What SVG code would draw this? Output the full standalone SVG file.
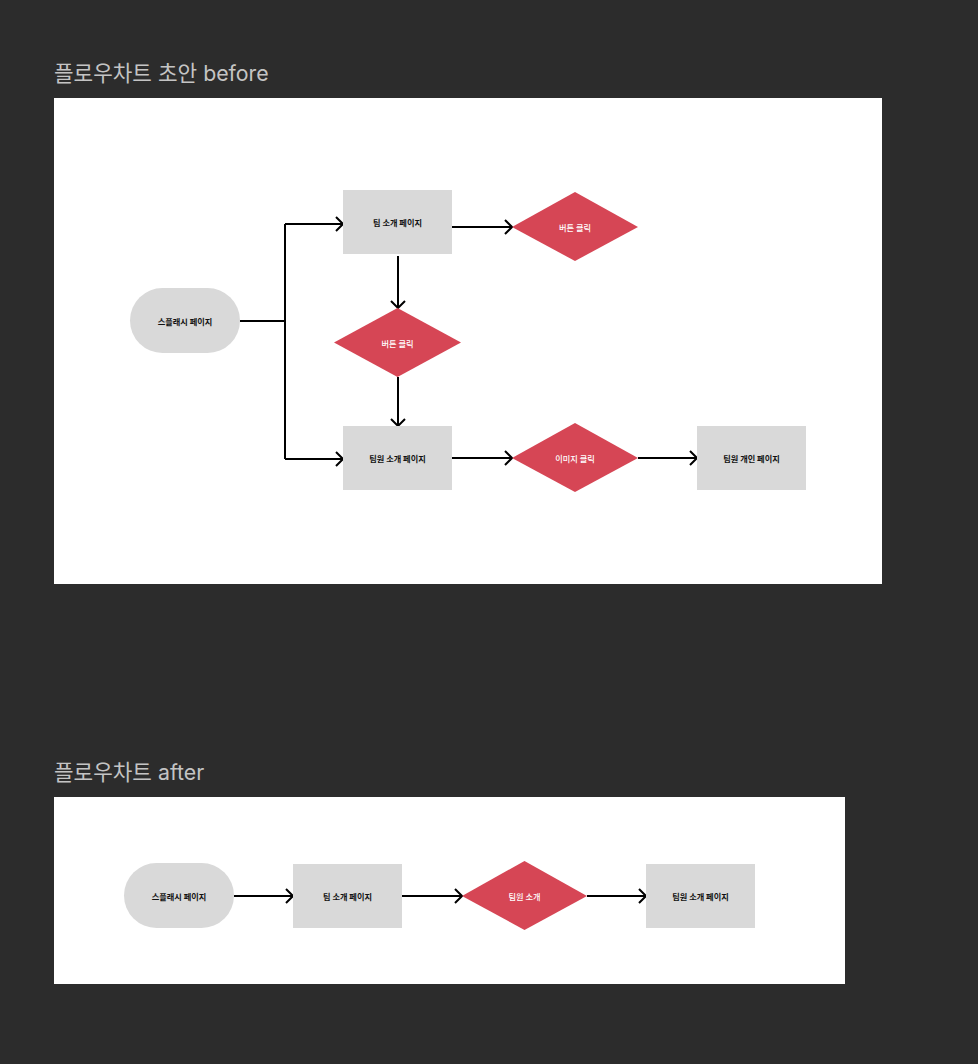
<svg xmlns="http://www.w3.org/2000/svg" width="978" height="1064" viewBox="0 0 978 1064">
<style>
.title{font-family:Inter,"Noto Sans CJK KR",sans-serif;font-size:21.3px;fill:#c4c4c4}
.lbl{font-family:"Noto Sans CJK KR","Noto Sans",sans-serif;font-size:8.2px;font-weight:700;fill:#111;text-anchor:middle;dominant-baseline:central}
.lblw{font-family:"Noto Sans CJK KR","Noto Sans",sans-serif;font-size:8.2px;font-weight:500;fill:#fff;text-anchor:middle;dominant-baseline:central}
.box{fill:#d9d9d9}
.dia{fill:#d64655}
.con{stroke:#000;stroke-width:2;fill:none}
</style>
<defs>
<marker id="arr" viewBox="0 0 10 16" refX="9" refY="8" markerWidth="10" markerHeight="16" markerUnits="userSpaceOnUse" orient="auto">
<path d="M2,1 L9,8 L2,15" fill="none" stroke="#000" stroke-width="2"/>
</marker>
</defs>
<rect width="978" height="1064" fill="#2c2c2c"/>
<text class="title" x="54" y="81">플로우차트 초안 before</text>
<rect x="54" y="98" width="828" height="486" fill="#fff"/>
<text class="title" x="54" y="780">플로우차트 after</text>
<rect x="54" y="797" width="791" height="187" fill="#fff"/>

<g id="connectors">
<path class="con" d="M240,321 H285"/>
<path class="con" d="M285,224 V459"/>
<path class="con" d="M285,224 H343" marker-end="url(#arr)"/>
<path class="con" d="M285,459 H343" marker-end="url(#arr)"/>
<path class="con" d="M452,227 H512" marker-end="url(#arr)"/>
<path class="con" d="M398,256 V308" marker-end="url(#arr)"/>
<path class="con" d="M398,377 V426" marker-end="url(#arr)"/>
<path class="con" d="M452,458 H512" marker-end="url(#arr)"/>
<path class="con" d="M638,458 H697" marker-end="url(#arr)"/>
<path class="con" d="M234,896 H293" marker-end="url(#arr)"/>
<path class="con" d="M402,896 H462" marker-end="url(#arr)"/>
<path class="con" d="M587,896 H646" marker-end="url(#arr)"/>
</g>

<g id="b-splash">
<rect class="box" x="130" y="288" width="110" height="65" rx="32.5"/>
<text class="lbl" x="185" y="321">스플래시 페이지</text>
</g>
<g id="b-team">
<rect class="box" x="343" y="190" width="109" height="64"/>
<text class="lbl" x="397.5" y="222">팀 소개 페이지</text>
</g>
<g id="b-btn1">
<polygon class="dia" points="512,227 575,192 638,227 575,261"/>
<text class="lblw" x="575" y="227">버튼 클릭</text>
</g>
<g id="b-btn2">
<polygon class="dia" points="334,342.5 397.5,308 461,342.5 397.5,377"/>
<text class="lblw" x="397.5" y="342.5">버튼 클릭</text>
</g>
<g id="b-member">
<rect class="box" x="343" y="426" width="109" height="64"/>
<text class="lbl" x="397.5" y="458">팀원 소개 페이지</text>
</g>
<g id="b-img">
<polygon class="dia" points="512,458 575,423 638,458 575,492"/>
<text class="lblw" x="575" y="458">이미지 클릭</text>
</g>
<g id="b-personal">
<rect class="box" x="697" y="426" width="109" height="64"/>
<text class="lbl" x="751.5" y="458">팀원 개인 페이지</text>
</g>

<g id="a-splash">
<rect class="box" x="124" y="863" width="110" height="65" rx="32.5"/>
<text class="lbl" x="179" y="896">스플래시 페이지</text>
</g>
<g id="a-team">
<rect class="box" x="293" y="864" width="109" height="64"/>
<text class="lbl" x="347.5" y="896">팀 소개 페이지</text>
</g>
<g id="a-dia">
<polygon class="dia" points="462,896 524.5,861 587,896 524.5,930"/>
<text class="lblw" x="524.5" y="896">팀원 소개</text>
</g>
<g id="a-member">
<rect class="box" x="646" y="864" width="109" height="64"/>
<text class="lbl" x="700.5" y="896">팀원 소개 페이지</text>
</g>
</svg>
